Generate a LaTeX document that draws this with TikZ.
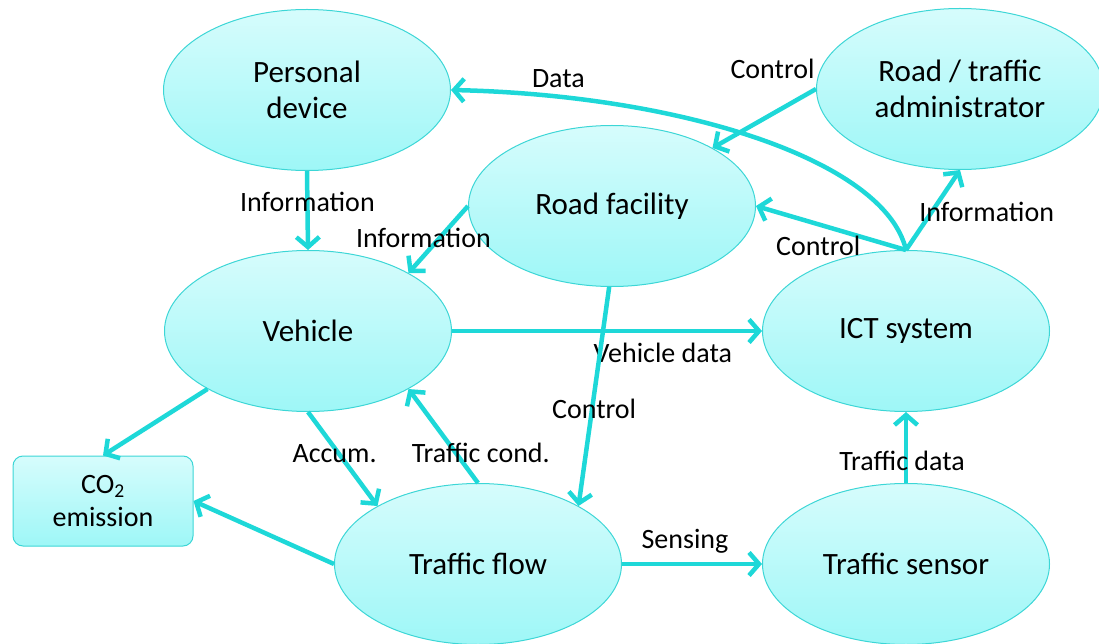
\documentclass[tikz,border=0pt]{standalone}
\usepackage{fontspec}
\setmainfont{Carlito}
\usetikzlibrary{shapes.geometric,arrows.meta}

\definecolor{celltop}{RGB}{214,252,252}
\definecolor{cellbot}{RGB}{158,247,247}
\definecolor{cellrim}{RGB}{60,214,214}
\definecolor{linkcol}{RGB}{30,216,216}

\tikzset{
  unit/.style={shape=ellipse, draw=cellrim, line width=1pt, top color=celltop, bottom color=cellbot,
    minimum width=287pt, minimum height=161pt, inner sep=0pt, align=center,
    font=\fontsize{31}{36}\selectfont},
  box/.style={shape=rectangle, rounded corners=10pt, draw=cellrim, line width=1pt, top color=celltop,
    bottom color=cellbot, minimum width=180pt, minimum height=90pt, align=center,
    font=\fontsize{28}{33}\selectfont},
  arr/.style={draw=linkcol, line width=4.5pt, -{Straight Barb[length=10pt,width=23pt]}},
  lbl/.style={font=\fontsize{28}{32}\selectfont, text=black, inner sep=0pt}
}

\begin{document}
\begin{tikzpicture}[x=1pt,y=-1pt]
        \useasboundingbox (0,0) rectangle (1099,644);

        \node[unit] (pd) at (307,90) {Personal\\device};
        \node[unit] (adm) at (960,89) {Road / traffic\\administrator};
        \node[unit] (rf) at (612,206) {Road facility};
        \node[unit] (veh) at (308,331) {Vehicle};
        \node[unit] (ict) at (906,331) {ICT system};
        \node[box] (co2) at (103,501) {CO\textsubscript{2}\\emission};
        \node[unit] (flow) at (478,564) {Traffic flow};
        \node[unit] (sens) at (906,564) {Traffic sensor};

        \draw [arr](pd.south) -- node[lbl,pos=.39] {Information} (veh.north);
        \draw [arr](rf.180) -- node[lbl,pos=.48,xshift=-16pt] {Information} (veh.30);
        \draw [arr](adm.west) -- node[lbl,pos=.42,yshift=45pt] {Control} (rf.30);
        \draw [arr](ict.north) -- node[lbl,pos=.585,yshift=-22pt] {Control} (rf.east);
        \draw [arr](ict.north) -- node[lbl,pos=.475,xshift=55pt] {Information} (adm.south);
        \draw [arr](ict.north) .. controls (885,160) and (680,95) .. node[lbl,pos=.84,yshift=18pt] {Data} (pd.east);
        \draw [arr](veh.east) -- node[lbl,pos=.68,yshift=-22pt] {Vehicle data} (ict.west);
        \draw [arr](rf.268) -- node[lbl,pos=.555,xshift=2pt] {Control} (flow.30);
        \draw [arr](veh.south) -- node[lbl,pos=.44,xshift=-4pt] {Accum.} (flow.150);
        \draw [arr](flow.north) -- node[lbl,pos=.32,xshift=25pt] {Traffic cond.} (veh.330);
        \draw [arr](veh.210) -- (co2.north);
        \draw [arr](flow.west) -- (co2.east);
        \draw [arr](flow.east) -- node[lbl,pos=.45,yshift=23pt] {Sensing} (sens.west);
        \draw [arr](sens.north) -- node[lbl,pos=.31,xshift=-4pt] {Traffic data} (ict.south);
    \end{tikzpicture}
\end{document}
